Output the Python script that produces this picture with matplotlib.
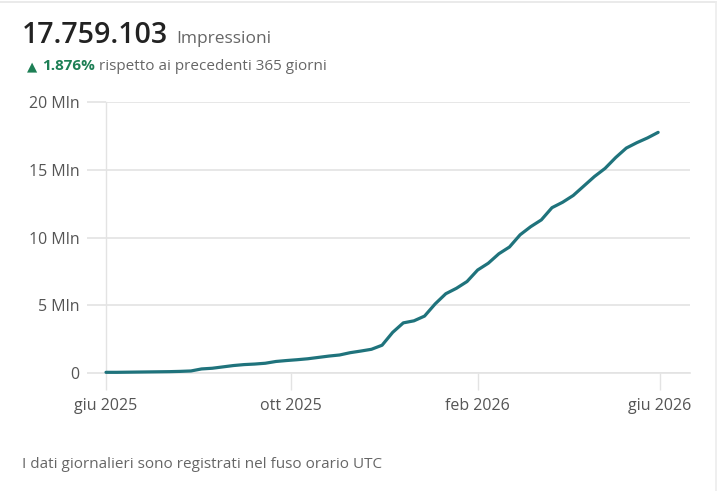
import matplotlib
matplotlib.use("Agg")
import matplotlib.pyplot as plt
import numpy as np
import pandas as pd

# ---- data (weekly cumulative impressions, millions) ----
dates = pd.date_range("2025-06-01", periods=53, freq="7D")
values_mln = [0.05, 0.05, 0.06, 0.07, 0.08, 0.09, 0.10, 0.12, 0.15, 0.30,
              0.35, 0.45, 0.55, 0.62, 0.66, 0.72, 0.85, 0.92, 0.98, 1.05,
              1.15, 1.25, 1.33, 1.50, 1.62, 1.75, 2.05, 3.00, 3.70, 3.85,
              4.20, 5.10, 5.85, 6.25, 6.75, 7.60, 8.10, 8.80, 9.30, 10.20,
              10.80, 11.30, 12.20, 12.60, 13.10, 13.80, 14.50, 15.10, 15.90, 16.60,
              17.00, 17.35, 17.76]
y_ticks = [0, 5, 10, 15, 20]
y_tick_labels = ["0", "5 Mln", "10 Mln", "15 Mln", "20 Mln"]
x_ticks = ["2025-06-01", "2025-10-01", "2026-02-01", "2026-06-01"]
x_tick_labels = ["giu 2025", "ott 2025", "feb 2026", "giu 2026"]
total_text = "17.759.103"
metric_text = "Impressioni"
delta_text = "1.876%"
compare_text = "rispetto ai precedenti 365 giorni"
footer_text = "I dati giornalieri sono registrati nel fuso orario UTC"

W, H = 722, 491
plt.rcParams['font.family'] = ['Open Sans', 'DejaVu Sans']
fig = plt.figure(figsize=(W / 100, H / 100), dpi=100)
fig.patch.set_facecolor("white")

def px(x, y):
    return x / W, 1 - y / H

# axes: left 106, right 690, top 102, bottom 373
ax = fig.add_axes([106 / W, (H - 373) / H, (690 - 106) / W, (373 - 102) / H])
grid_c = "#e3e3e3"
line_c = "#1f737c"
ax.plot(dates, values_mln, color=line_c, lw=2.3, solid_joinstyle="round",
        solid_capstyle="round", clip_on=False, zorder=3)
ax.set_ylim(0, 20)
ax.set_xlim(pd.Timestamp("2025-06-01"), pd.Timestamp("2026-06-21"))
ax.set_yticks(y_ticks)
ax.set_yticklabels(y_tick_labels)
ax.set_xticks(pd.to_datetime(x_ticks))
ax.set_xticklabels(x_tick_labels)
ax.grid(axis="y", color=grid_c, lw=1.2)
ax.set_axisbelow(True)
for s in ["top", "right"]:
    ax.spines[s].set_visible(False)
ax.spines["left"].set_color(grid_c)
ax.spines["bottom"].set_color(grid_c)
ax.spines["left"].set_linewidth(1.0)
ax.spines["bottom"].set_linewidth(1.2)
ax.tick_params(axis="y", length=14, color=grid_c, width=1.2, pad=5,
               labelsize=11.5, labelcolor="#555555")
ax.tick_params(axis="x", length=12, color=grid_c, width=1.0, pad=6,
               labelsize=11.5, labelcolor="#555555")

# header
fig.text(*px(22, 43), total_text, fontsize=20.5, color="#222222", va="baseline",
         ha="left", fontweight="semibold")
fig.text(*px(176, 43), metric_text, fontsize=12.5, color="#666666", va="baseline", ha="left")
fig.text(*px(27, 70), "\u25B2", fontsize=9.5, color="#1d7f55", va="baseline", ha="left",
         family="DejaVu Sans")
fig.text(*px(42, 70), delta_text, fontsize=11, color="#1d7f55", va="baseline",
         ha="left", fontweight="bold")
fig.text(*px(99, 70), compare_text, fontsize=11, color="#666666", va="baseline", ha="left")
fig.text(*px(22, 468), footer_text, fontsize=11, color="#666666", va="baseline", ha="left")

# card borders
fig.add_artist(plt.Line2D([0, 716 / W], [1 - 1.5 / H] * 2, color="#e6e6e6", lw=1.2))
fig.add_artist(plt.Line2D([716 / W] * 2, [0, 1 - 1.5 / H], color="#ececec", lw=1.2))

fig.savefig("out.png", dpi=100)
